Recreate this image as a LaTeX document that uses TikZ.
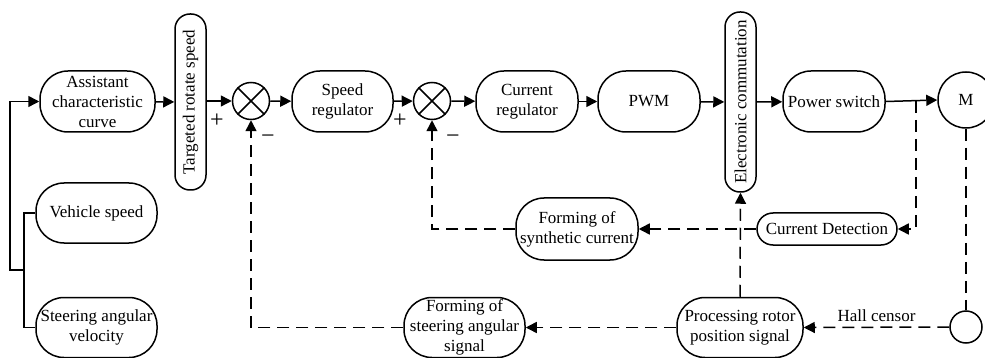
\documentclass[tikz,border=0pt]{standalone}
\usepackage{fontspec}
\setmainfont{Liberation Serif}
\usetikzlibrary{arrows.meta,calc}
\begin{document}
\begin{tikzpicture}[x=1pt,y=-1pt,
  every node/.style={font=\fontsize{17}{20}\selectfont},
  blk/.style={draw,line width=1.5pt,align=center,inner sep=0pt,rounded corners=#1},
  blk/.default=28pt,
  sumc/.style={draw,circle,line width=1.5pt,minimum size=37pt,inner sep=0pt},
  sgn/.style={font=\fontsize{24}{24}\selectfont,inner sep=0pt},
  arr/.style={line width=1.5pt,-{Triangle[length=11pt,width=11pt]}},
  ln/.style={line width=1.5pt},
  dsh/.style={line width=1.5pt,dash pattern=on 12pt off 7pt},
  darr/.style={dsh,-{Triangle[length=11pt,width=11pt]}}]
\useasboundingbox (0,0) rectangle (985,358);
% forward chain
\node[blk,minimum width=115pt,minimum height=61pt] (acc) at (97.5,101.5) {Assistant\\characteristic\\curve};
\node[blk=15pt,minimum width=31pt,minimum height=176pt] (trs) at (190.5,102) {\rotatebox{90}{Targeted rotate speed}};
\node[sumc] (s1) at (251,101) {};
\draw[ln] (s1.north west) -- (s1.south east) (s1.north east) -- (s1.south west);
\node[blk,minimum width=101pt,minimum height=61pt] (sr) at (342.5,101.5) {Speed\\regulator};
\node[sumc] (s2) at (432,101) {};
\draw[ln] (s2.north west) -- (s2.south east) (s2.north east) -- (s2.south west);
\node[blk,minimum width=102pt,minimum height=61pt] (cr) at (527,101.5) {Current\\regulator};
\node[blk,minimum width=102pt,minimum height=61pt] (pwm) at (649,101.5) {PWM};
\node[blk=15pt,minimum width=31pt,minimum height=180pt] (ec) at (740.5,102) {\rotatebox{90}{Electronic commutation}};
\node[blk,minimum width=102pt,minimum height=61pt] (ps) at (834,101.5) {Power switch};
\node[draw,circle,line width=1.5pt,minimum size=56pt,inner sep=0pt] (M) at (966,100) {M};
% feedback blocks
\node[blk=16pt,minimum width=140pt,minimum height=32pt] (cd) at (827,229) {Current Detection};
\node[blk,minimum width=122pt,minimum height=62pt] (fsc) at (577,229) {Forming of\\synthetic current};
\node[blk,minimum width=126pt,minimum height=60pt] (prp) at (740,327.5) {Processing rotor\\position signal};
\node[blk,minimum width=121pt,minimum height=60pt] (fsa) at (464.5,327.5) {Forming of\\steering angular\\signal};
\node[draw,circle,line width=1.5pt,minimum size=32pt,inner sep=0pt] (hall) at (966,327) {};
% inputs
\node[blk,minimum width=121pt,minimum height=60pt] (vs) at (96.5,213) {Vehicle speed};
\node[blk,minimum width=121pt,minimum height=60pt] (sav) at (96.5,327.5) {Steering angular\\velocity};
% signs
\node[sgn] (p1) at (217,121) {+};
\node[sgn] (m1) at (268,139) {−};
\node[sgn] (p2) at (400,121) {+};
\node[sgn] (m2) at (453,139) {−};
% coordinates
\coordinate (j) at (24,270);
\coordinate (jl) at (10,270);
\coordinate (br) at (916,101);
% input bus
\draw[ln] (vs.west) -| (j);
\draw[ln] (sav.west) -| (j);
\draw[arr] (j) -- (jl) |- (acc.west);
% forward arrows
\draw[arr] (acc) -- (trs);
\draw[arr] (trs.east |- s1) -- (s1);
\draw[arr] (s1) -- (sr);
\draw[arr] (sr) -- (s2);
\draw[arr] (s2) -- (cr);
\draw[arr] (cr) -- (pwm);
\draw[arr] (pwm) -- (ec);
\draw[arr] (ec) -- (ps);
\draw[arr] (ps.east) -- (M.west);
% feedback
\draw[darr] (br) |- (cd.east);
\draw[darr] (cd.west) -- (fsc.east);
\draw[darr] (fsc.west) -| (s2.south);
\draw[dsh] (M.south) -- (hall.north);
\draw[darr] (hall.west) -- node[above=2pt] (hl) {Hall censor} (prp.east);
\draw[darr] (prp.north) -- (ec.south);
\draw[darr] (prp.west) -- (fsa.east);
\draw[darr] (fsa.west) -| (s1.south);
\end{tikzpicture}
\end{document}
